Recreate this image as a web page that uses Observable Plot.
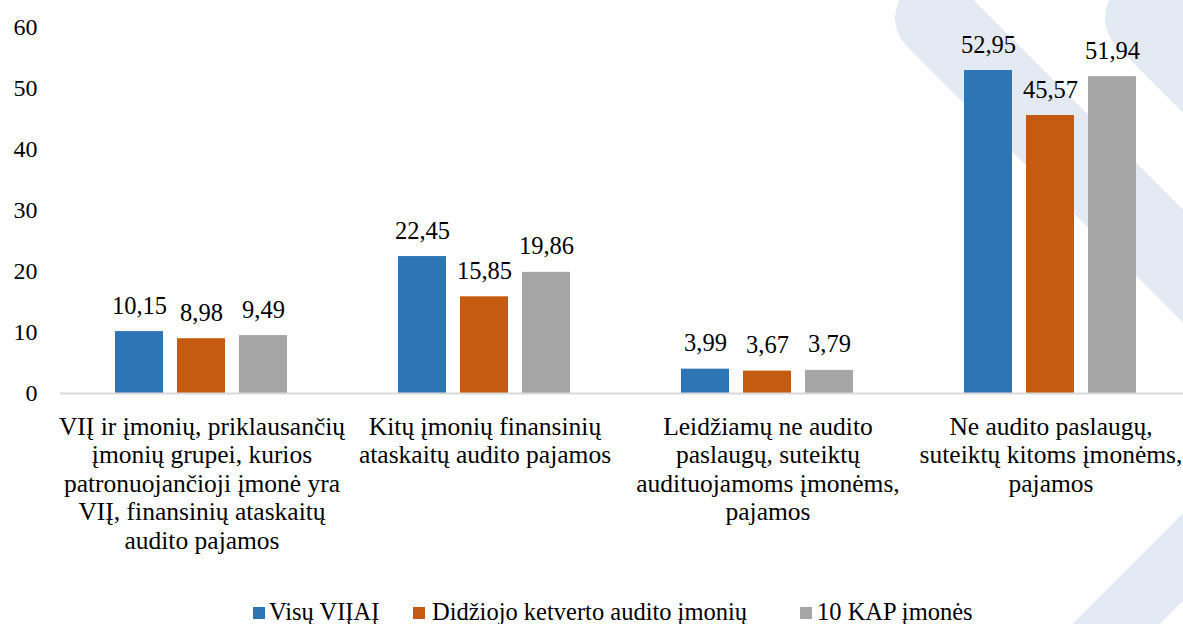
<!DOCTYPE html>
<html>
<head>
<meta charset="utf-8">
<script src="https://cdn.jsdelivr.net/npm/d3@7"></script>
<script src="https://cdn.jsdelivr.net/npm/@observablehq/plot@0.6"></script>
<style>
  html, body { margin: 0; padding: 0; background: #fff; width: 1183px; height: 624px; overflow: hidden; }
  #wm { position: absolute; left: 0; top: 0; z-index: 0; }
  #chart { position: absolute; left: 0; top: 0; z-index: 1; width: 1193px; }
  #chart svg { max-width: none !important; }
  #legend { position: absolute; top: 0; left: 0; z-index: 2;
            font-family: "Liberation Serif", serif; font-size: 24.5px; color: #000; white-space: nowrap; }
  #legend .sw { position: absolute; top: 607px; width: 12px; height: 12px; }
  #legend .tx { position: absolute; top: 598px; line-height: 28px; }
</style>
</head>
<body>
<svg id="wm" width="1183" height="624">
  <g stroke="#e4eaf3" fill="none" stroke-linecap="round">
    <line x1="935" y1="18" x2="1400" y2="483" stroke-width="80"/>
    <line x1="1145" y1="18" x2="1400" y2="273" stroke-width="80"/>
    <line x1="1050" y1="690" x2="1300" y2="440" stroke-width="62"/>
  </g>
</svg>
<div id="chart"></div>
<div id="legend"></div>
<script>
// ---- data ----
const categories = [
  "VIĮ ir įmonių, priklausančių\nįmonių grupei, kurios\npatronuojančioji įmonė yra\nVIĮ, finansinių ataskaitų\naudito pajamos",
  "Kitų įmonių finansinių\nataskaitų audito pajamos",
  "Leidžiamų ne audito\npaslaugų, suteiktų\naudituojamoms įmonėms,\npajamos",
  "Ne audito paslaugų,\nsuteiktų kitoms įmonėms,\npajamos"
];
const series = ["Visų VIĮAĮ", "Didžiojo ketverto audito įmonių", "10 KAP įmonės"];
const valuesVisu = [10.15, 22.45, 3.99, 52.95];
const valuesDidziojo = [8.98, 15.85, 3.67, 45.57];
const values10KAP = [9.49, 19.86, 3.79, 51.94];
const colors = ["#2e75b6", "#c55a11", "#a5a5a5"];
const yTicks = [0, 10, 20, 30, 40, 50, 60];

const seriesValues = [valuesVisu, valuesDidziojo, values10KAP];
const data = [];
categories.forEach((c, i) => {
  series.forEach((s, j) => data.push({cat: c, series: s, value: seriesValues[j][i]}));
});

const fmt = v => v.toFixed(2).replace(".", ",");

const chart = Plot.plot({
  width: 1193,
  height: 570,
  marginLeft: 59,
  marginRight: 0,
  marginTop: 27,
  marginBottom: 177,
  style: {fontFamily: "'Liberation Serif', serif", fontSize: "24px", color: "#000", background: "transparent", overflow: "visible", maxWidth: "none"},
  fx: {domain: categories, padding: 0, label: null},
  x: {domain: series, paddingInner: 0.222, paddingOuter: 0.861, axis: null},
  y: {domain: [0, 60], ticks: yTicks, label: null, axis: null},
  color: {domain: series, range: colors},
  marks: [
    Plot.axisY({ticks: yTicks, tickSize: 0, tickPadding: 23, label: null, tickFormat: d => String(d), fontSize: 24}),
    Plot.axisFx({anchor: "bottom", tickSize: 0, tickPadding: 21, label: null, lineHeight: 1.12, fontSize: 25.5}),
    Plot.barY(data, {fx: "cat", x: "series", y: "value", fill: "series"}),
    Plot.ruleY([0], {stroke: "#d9d9d9", strokeWidth: 2}),
    Plot.text(data, {fx: "cat", x: "series", y: "value", text: d => fmt(d.value), lineAnchor: "bottom", dy: -18, fontSize: 24.5, fill: "#000"})
  ]
});
document.getElementById("chart").appendChild(chart);

// legend (positions of swatches and texts along the bottom)
const legendSwatchX = [253, 413, 800];
const legendTextX = [269, 432, 817];
const legend = document.getElementById("legend");
series.forEach((s, i) => {
  const sw = document.createElement("span");
  sw.className = "sw";
  sw.style.background = colors[i];
  sw.style.left = legendSwatchX[i] + "px";
  const t = document.createElement("span");
  t.className = "tx";
  t.textContent = s;
  t.style.left = legendTextX[i] + "px";
  legend.appendChild(sw);
  legend.appendChild(t);
});
</script>
</body>
</html>
